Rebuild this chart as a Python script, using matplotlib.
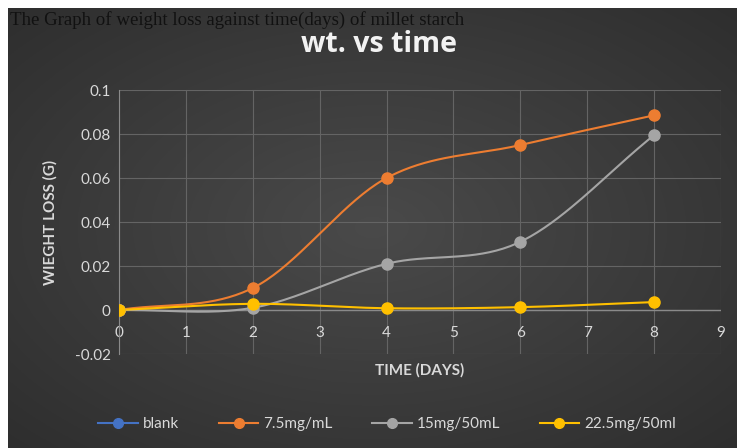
import numpy as np
import matplotlib
matplotlib.use("Agg")
import matplotlib.pyplot as plt
from matplotlib.lines import Line2D

days = [0, 2, 4, 6, 8]
series_names = ["blank", "7.5mg/mL", "15mg/50mL", "22.5mg/50ml"]
blank = [0, np.nan, np.nan, np.nan, np.nan]
s75 = [0, 0.010, 0.060, 0.075, 0.0885]
s15 = [0, 0.001, 0.021, 0.031, 0.0795]
s225 = [0, 0.0028, 0.0008, 0.0013, 0.0036]
colors = ["#4472c4", "#ed7d31", "#a5a5a5", "#ffc000"]
yticks = [-0.02, 0, 0.02, 0.04, 0.06, 0.08, 0.1]
ytick_labels = ["-0.02", "0", "0.02", "0.04", "0.06", "0.08", "0.1"]
xticks = list(range(10))

def smooth(x, y, n=40):
    x = np.asarray(x, float); y = np.asarray(y, float)
    m = ~np.isnan(y)
    x, y = x[m], y[m]
    if len(x) < 2:
        return x, y
    px = np.concatenate([[2*x[0]-x[1]], x, [2*x[-1]-x[-2]]])
    py = np.concatenate([[2*y[0]-y[1]], y, [2*y[-1]-y[-2]]])
    xs, ys = [], []
    for i in range(1, len(px)-2):
        p0, p1, p2, p3 = (px[i-1], py[i-1]), (px[i], py[i]), (px[i+1], py[i+1]), (px[i+2], py[i+2])
        c1 = (p1[0] + (p2[0]-p0[0])/6, p1[1] + (p2[1]-p0[1])/6)
        c2 = (p2[0] - (p3[0]-p1[0])/6, p2[1] - (p3[1]-p1[1])/6)
        t = np.linspace(0, 1, n)
        bx = (1-t)**3*p1[0] + 3*(1-t)**2*t*c1[0] + 3*(1-t)*t**2*c2[0] + t**3*p2[0]
        by = (1-t)**3*p1[1] + 3*(1-t)**2*t*c1[1] + 3*(1-t)*t**2*c2[1] + t**3*p2[1]
        xs.append(bx); ys.append(by)
    return np.concatenate(xs), np.concatenate(ys)

plt.rcParams['font.family'] = ['Lato', 'DejaVu Sans']
fig = plt.figure(figsize=(7.37, 4.48), dpi=100)
fig.patch.set_facecolor("white")

# background gradient
bg = fig.add_axes([8/737, 0, 729/737, 440/448])
yy, xx = np.mgrid[-1:1:300j, -1:1:500j]
r = np.sqrt((xx*0.9)**2 + (yy*0.9)**2)
val = 0.29 - 0.12*np.clip(r, 0, 1.4)/1.4
img = np.dstack([val, val, val])
bg.imshow(img, aspect='auto', extent=[0, 1, 0, 1])
bg.set_axis_off()

ax = fig.add_axes([119/737, 1-354/448, (721-119)/737, (354-90)/448])
ax.set_facecolor("none")
data = [blank, s75, s15, s225]
for name, vals, c in zip(series_names, data, colors):
    sx, sy = smooth(days, vals)
    ax.plot(sx, sy, color=c, lw=1.5, zorder=3)
    ax.plot(days, vals, 'o', color=c, ms=8, mec=c, zorder=4)

ax.set_xlim(0, 9)
ax.set_ylim(-0.02, 0.1)
ax.set_xticks(xticks)
ax.set_yticks(yticks)
ax.set_yticklabels(ytick_labels)
ax.grid(True, color="#646464", lw=0.8)
ax.set_axisbelow(True)
for s in ["top", "right", "bottom"]:
    ax.spines[s].set_visible(False)
ax.spines["left"].set_color("#8a8a8a")
ax.axhline(0, color="#8a8a8a", lw=1, zorder=2)
ax.tick_params(colors="#d9d9d9", labelsize=11, length=0, pad=6)
ax.xaxis.set_tick_params(pad=-20)

fig.text(420/737, 1-370/448, "TIME (DAYS)", color="#d9d9d9", fontsize=11,
         fontweight="bold", ha="center", va="center")
ax.set_ylabel("WIEGHT LOSS (G)", color="#d9d9d9", fontsize=11, fontweight="bold", labelpad=12)

fig.text(10/737, 1-20/448, "The Graph of weight loss against time(days) of millet starch",
         family="Liberation Serif", fontsize=13.6, color="#111111", va="center", ha="left")
fig.text(379/737, 1-45/448, "wt. vs time", family="Open Sans", fontsize=20.5,
         fontweight="bold", color="#f2f2f2", va="center", ha="center")

handles = [Line2D([], [], color=c, marker='o', ms=7, lw=1.5) for c in colors]
leg = fig.legend(handles, series_names, loc="center", bbox_to_anchor=(387/737, 1-424/448),
                 ncol=4, frameon=False, fontsize=11, handlelength=2.6, columnspacing=2.6,
                 handletextpad=0.3)
for t in leg.get_texts():
    t.set_color("#d9d9d9")

fig.savefig("out.png", dpi=100, facecolor=fig.get_facecolor())
